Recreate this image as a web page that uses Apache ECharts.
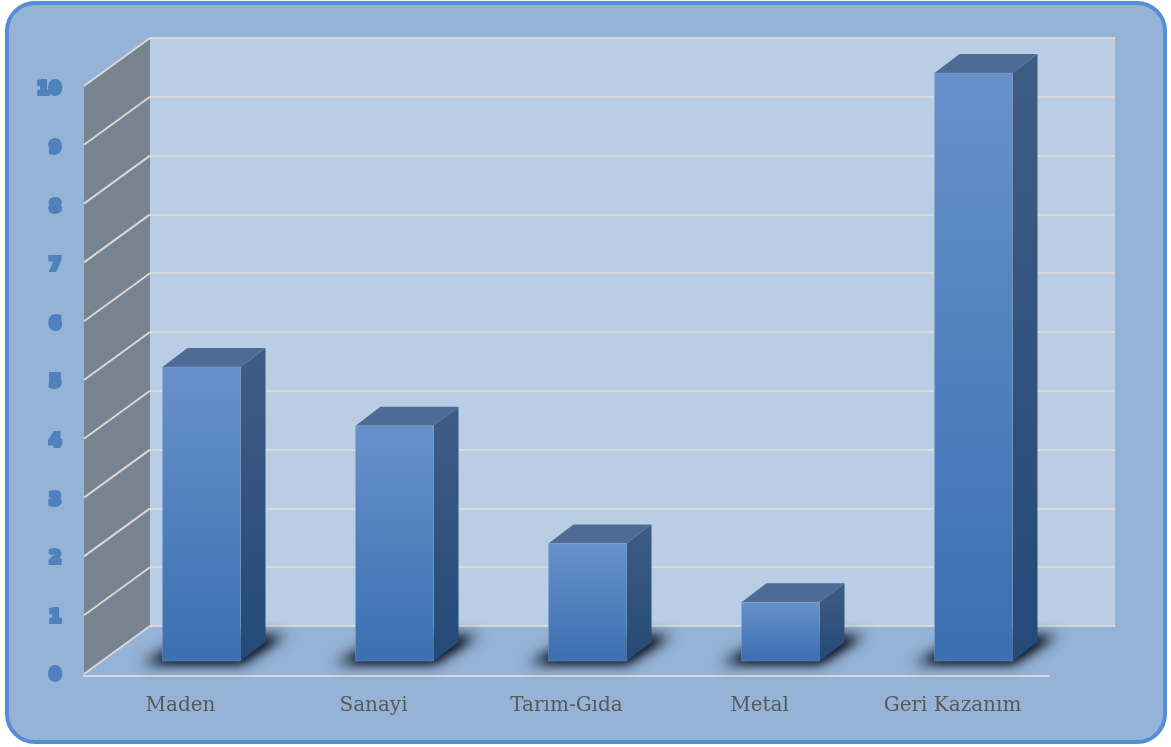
<!DOCTYPE html>
<html>
<head>
<meta charset="utf-8">
<script src="https://cdn.jsdelivr.net/npm/echarts@6/dist/echarts.min.js"></script>
<style>
  html, body { margin: 0; padding: 0; background: #ffffff; }
  #chart { width: 1171px; height: 747px; }
</style>
</head>
<body>
<div id="chart"></div>
<script>
// Sector counts
const categories = ['Maden', 'Sanayi', 'Tarım-Gıda', 'Metal', 'Geri Kazanım'];
const values = [5, 4, 2, 1, 10];
// Value axis range and step
const yMin = 0;
const yMax = 10;
const yStep = 1;

// Pseudo-3D geometry (pixel offsets from the back wall)
const DEPTH = [-66, 48];        // back wall -> front edge of floor
const BAR_FRONT = [-45, 35];    // back wall -> front face of bars
const BAR_BACK = [-20, 16];     // back wall -> rear face of bars
const BAR_HALF = 39;
const SHADOW_SHIFT = 3000;      // shadow-only drawing: shape sits off canvas, its shadow is moved back

const chart = echarts.init(document.getElementById('chart'));

function renderWalls(params, api) {
  const cs = params.coordSys;
  const x = cs.x, y = cs.y, h = cs.height;
  const children = [{
    type: 'polygon',
    shape: { points: [[x, y], [x, y + h], [x + DEPTH[0], y + h + DEPTH[1]], [x + DEPTH[0], y + DEPTH[1]]] },
    style: { fill: '#77838f' }
  }];
  for (let k = yMin; k <= yMax; k += yStep) {
    const yy = api.coord([0, k])[1];
    children.push({
      type: 'line',
      shape: { x1: x, y1: yy, x2: x + DEPTH[0], y2: yy + DEPTH[1] },
      style: { stroke: '#d9d9d9', lineWidth: 2 }
    });
  }
  return { type: 'group', children: children };
}

function shadowLayer(points, blur) {
  const S = SHADOW_SHIFT;
  return {
    type: 'polygon',
    shape: { points: points.map(p => [p[0] + S, p[1]]) },
    style: {
      fill: 'rgba(20,28,45,1)', shadowBlur: blur,
      shadowColor: 'rgba(20,28,45,1)', shadowOffsetX: -S, shadowOffsetY: 0
    }
  };
}

function renderBar(params, api) {
  const i = api.value(0);
  const v = api.value(1);
  const base = api.coord([i, 0]);
  const top = api.coord([i, v]);
  const fx0 = base[0] + BAR_FRONT[0] - BAR_HALF, fx1 = base[0] + BAR_FRONT[0] + BAR_HALF;
  const fyb = base[1] + BAR_FRONT[1], fyt = top[1] + BAR_FRONT[1];
  const bx0 = base[0] + BAR_BACK[0] - BAR_HALF, bx1 = base[0] + BAR_BACK[0] + BAR_HALF;
  const byb = base[1] + BAR_BACK[1], byt = top[1] + BAR_BACK[1];
  const outer = [[fx0 - 22, fyb + 3], [fx1 + 2, fyb + 3], [bx1 + 22, byb - 7], [bx0 + 4, byb - 7]];
  const inner = [[fx0 - 8, fyb + 1], [fx1, fyb + 1], [bx1 + 10, byb - 3], [bx0 + 10, byb - 3]];
  return {
    type: 'group',
    children: [
      shadowLayer(outer, 14),
      shadowLayer(inner, 8),
      {
        type: 'polygon',
        shape: { points: [[fx1, fyt], [bx1, byt], [bx1, byb], [fx1, fyb]] },
        style: {
          fill: new echarts.graphic.LinearGradient(0, 0, 0, 1, [
            { offset: 0, color: '#3f5c85' }, { offset: 1, color: '#244a77' }
          ])
        }
      },
      {
        type: 'polygon',
        shape: { points: [[fx0, fyt], [bx0, byt], [bx1, byt], [fx1, fyt]] },
        style: { fill: '#4e6b95' }
      },
      {
        type: 'rect',
        shape: { x: fx0, y: fyt, width: fx1 - fx0, height: fyb - fyt },
        style: {
          fill: new echarts.graphic.LinearGradient(0, 0, 0, 1, [
            { offset: 0, color: '#6891ca' }, { offset: 1, color: '#3a6fb1' }
          ]),
          stroke: 'rgba(140,170,215,0.35)', lineWidth: 1
        }
      }
    ]
  };
}

const option = {
  backgroundColor: '#ffffff',
  animation: false,
  graphic: [{
    type: 'rect',
    z: -10,
    shape: { x: 7, y: 3, width: 1158, height: 739, r: 28 },
    style: { fill: '#95b3d7', stroke: '#558ed5', lineWidth: 4 }
  }],
  grid: [
    // back wall
    { left: 150, right: 56, top: 38, bottom: 121, show: true, backgroundColor: '#b9cde5', borderWidth: 0 },
    // front plane (axis labels)
    { left: 84, right: 122, top: 90, bottom: 71 }
  ],
  xAxis: [
    { gridIndex: 0, type: 'category', data: categories, show: false },
    {
      gridIndex: 1, type: 'category', data: categories,
      axisLine: { lineStyle: { color: '#d9d9d9', width: 2 } },
      axisTick: { length: 8, lineStyle: { color: '#d9d9d9', width: 2 } },
      axisLabel: { margin: 20, color: '#595959', fontSize: 20, fontFamily: 'DejaVu Serif' }
    }
  ],
  yAxis: [
    {
      gridIndex: 0, type: 'value', min: yMin, max: yMax, interval: yStep,
      axisLine: { show: false }, axisTick: { show: false }, axisLabel: { show: false },
      splitLine: { lineStyle: { color: '#d9d9d9', width: 2 } }
    },
    {
      gridIndex: 1, type: 'value', min: yMin, max: yMax, interval: yStep,
      axisLine: { show: false }, axisTick: { show: false }, splitLine: { show: false },
      axisLabel: {
        margin: 23, color: '#4f81bd', fontSize: 17, fontWeight: 'bold',
        fontFamily: 'DejaVu Sans', textBorderColor: '#4f81bd', textBorderWidth: 4
      }
    }
  ],
  series: [
    {
      type: 'custom', xAxisIndex: 0, yAxisIndex: 0, clip: false, silent: true,
      renderItem: renderWalls, data: [[0, 0]], z: 1
    },
    {
      type: 'custom', xAxisIndex: 0, yAxisIndex: 0, clip: false,
      renderItem: renderBar,
      data: values.map((v, i) => [i, v]), z: 3
    }
  ]
};

chart.setOption(option);
</script>
</body>
</html>
